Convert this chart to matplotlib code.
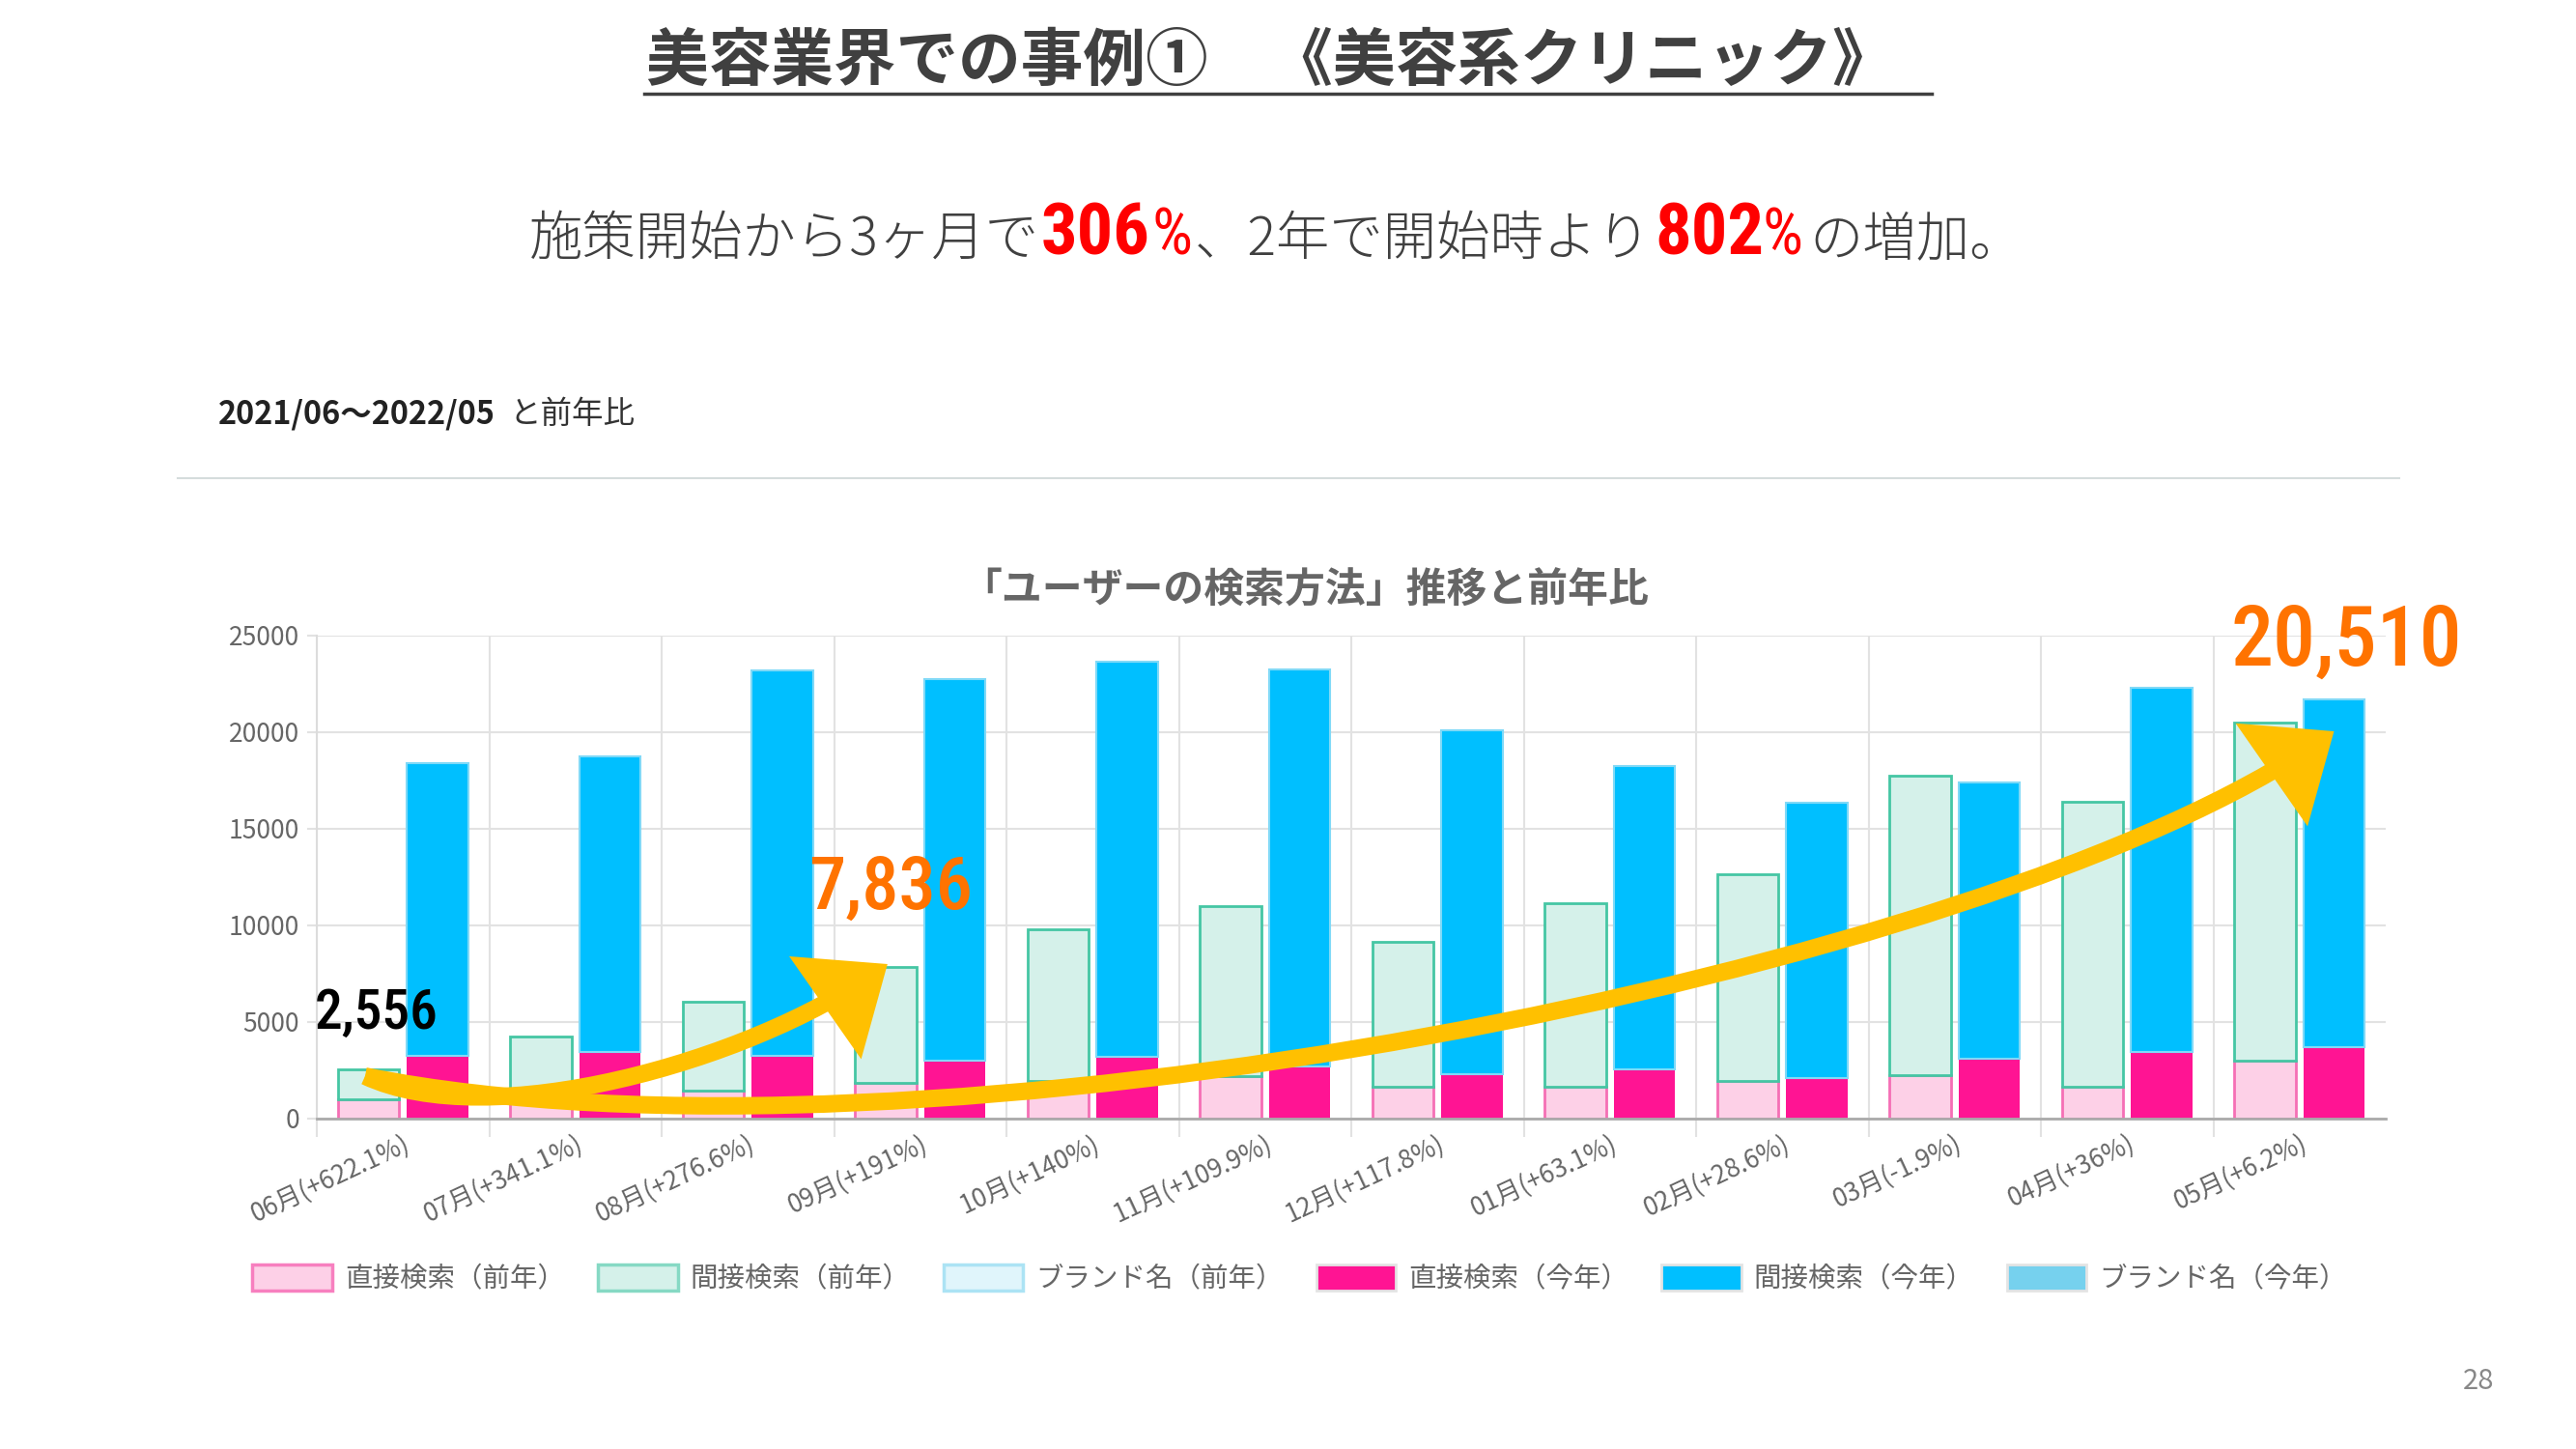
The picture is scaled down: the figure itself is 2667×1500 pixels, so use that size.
import numpy as np
import matplotlib
matplotlib.use('Agg')
import matplotlib.pyplot as plt
from matplotlib import font_manager as fm
from matplotlib.patches import Patch, FancyArrowPatch
from matplotlib.path import Path
from matplotlib.lines import Line2D

# ---------------- data ----------------
months = ['06月', '07月', '08月', '09月', '10月', '11月', '12月', '01月', '02月', '03月', '04月', '05月']
yoy_change = ['+622.1%', '+341.1%', '+276.6%', '+191%', '+140%', '+109.9%',
              '+117.8%', '+63.1%', '+28.6%', '-1.9%', '+36%', '+6.2%']
direct_prev = [1000, 1200, 1450, 1850, 1950, 2200, 1650, 1650, 1950, 2250, 1650, 3000]
indirect_prev = [1556, 3030, 4620, 5986, 7830, 8810, 7500, 9520, 10690, 15510, 14760, 17510]
brand_prev = [0, 0, 0, 0, 0, 0, 0, 0, 0, 0, 0, 0]
direct_cur = [3230, 3470, 3270, 2980, 3180, 2700, 2300, 2540, 2100, 3100, 3430, 3690]
indirect_cur = [15180, 15280, 19910, 19780, 20450, 20530, 17800, 15730, 14230, 14320, 18890, 18000]
brand_cur = [0, 0, 0, 0, 0, 0, 0, 0, 0, 0, 0, 0]
series_names = ['直接検索（前年）', '間接検索（前年）', 'ブランド名（前年）',
                '直接検索（今年）', '間接検索（今年）', 'ブランド名（今年）']
callout_values = [2556, 7836, 20510]
growth_3m = 306
growth_2y = 802
y_ticks = [0, 5000, 10000, 15000, 20000, 25000]

# ---------------- setup ----------------
W, H = 2667, 1500
JP = 'Noto Sans CJK JP'
plt.rcParams['font.family'] = [JP, 'DejaVu Sans']
fig = plt.figure(figsize=(W / 100, H / 100), dpi=100)
fig.patch.set_facecolor('white')
renderer = fig.canvas.get_renderer()


def fx(px):
    return px / W


def fy(py):
    return 1 - py / H


def fit(t, target_px):
    w = t.get_window_extent(renderer).width
    t.set_fontsize(t.get_fontsize() * target_px / w)
    return t


_names = {f.name for f in fm.fontManager.ttflist}
NARROW = None
for n in ['Liberation Sans Narrow', 'Roboto Condensed', 'Open Sans Condensed']:
    if n in _names:
        NARROW = dict(family=n)
        break
if NARROW is None:
    for f in fm.fontManager.ttflist:
        if f.name == 'DejaVu Sans' and 'Condensed' in f.fname:
            NARROW = dict(family='DejaVu Sans', stretch='condensed')
            break
if NARROW is None:
    NARROW = dict(family='Roboto')

# ---------------- header texts ----------------
title = fig.text(fx(669), fy(64), '美容業界での事例①　《美容系クリニック》', ha='left', va='center',
                 fontsize=47, fontweight='bold', color='#404040')
fit(title, 1291)
fig.add_artist(Line2D([fx(667), fx(2000)], [fy(97), fy(97)], color='#404040', lw=2.5))

base = fy(264)
gray_kw = dict(color='#404040', fontweight='light', va='baseline', ha='left')
num_kw = dict(color='#ff0000', fontweight='bold', va='baseline', ha='left', **NARROW)
pct_kw = dict(color='#ff0000', fontweight='normal', va='baseline', ha='left', **NARROW)
t1 = fig.text(fx(548), base, '施策開始から3ヶ月で', fontsize=40, **gray_kw)
fit(t1, 527)
gsize = t1.get_fontsize()
n1 = fig.text(fx(1078), base, f'{growth_3m}', fontsize=50, **num_kw)
fit(n1, 113)
p1 = fig.text(fx(1192), base, '%', fontsize=36, **pct_kw)
fit(p1, 42)
fig.text(fx(1237), base, '、2年で開始時より', fontsize=gsize, **gray_kw)
n2 = fig.text(fx(1713), base, f'{growth_2y}', fontsize=n1.get_fontsize(), **num_kw)
fig.text(fx(1825), base, '%', fontsize=p1.get_fontsize(), **pct_kw)
fig.text(fx(1873), base, 'の増加。', fontsize=gsize, **gray_kw)

d1 = fig.text(fx(226), fy(429), '2021/06〜2022/05', ha='left', va='center', fontsize=19,
              fontweight='bold', color='#222222')
fit(d1, 288)
fig.text(fx(527), fy(429), 'と前年比', ha='left', va='center', fontsize=d1.get_fontsize(),
         color='#333333')
fig.add_artist(Line2D([fx(184), fx(2484)], [fy(495), fy(495)], color='#d5dcdc', lw=1.5))

ct = fig.text(fx(995), fy(612), '「ユーザーの検索方法」推移と前年比', ha='left', va='center',
              fontsize=28, fontweight='bold', color='#666666')
fit(ct, 711)

fig.text(fx(2566), fy(1430), '28', ha='center', va='center', fontsize=21, color='#888888')

# ---------------- chart ----------------
ax = fig.add_axes([fx(328), fy(1158), (2470 - 328) / W, 500 / H])
x = np.arange(len(months))
w = 0.355
off = 0.2
dp = np.array(direct_prev)
ip = np.array(indirect_prev)
dc = np.array(direct_cur)
ic = np.array(indirect_cur)

c_dp = ('#fdd0e7', '#f56fb5')
c_ip = ('#d5f1ea', '#45c6a4')
c_bp = ('#e0f5fb', '#ace3f4')
c_dc = ('#ff1493', '#ff1493')
c_ic = ('#00bfff', '#80d9f7')
c_bc = ('#76d1ee', '#76d1ee')

ax.bar(x - off, dp, w, color=c_dp[0], edgecolor=c_dp[1], lw=2, zorder=2)
ax.bar(x - off, ip, w, bottom=dp, color=c_ip[0], edgecolor=c_ip[1], lw=2, zorder=2)
ax.bar(x - off, brand_prev, w, bottom=dp + ip, color=c_bp[0], lw=0, zorder=2)
ax.bar(x + off, dc, w, color=c_dc[0], lw=0, zorder=2)
ax.bar(x + off, ic, w, bottom=dc, color=c_ic[0], edgecolor=c_ic[1], lw=1.5, zorder=2)
ax.bar(x + off, brand_cur, w, bottom=dc + ic, color=c_bc[0], lw=0, zorder=2)

ax.set_xlim(-0.5, len(months) - 0.5)
ax.set_ylim(0, 25000)
ax.set_axisbelow(True)
ax.set_yticks(y_ticks)
ax.set_yticklabels([str(v) for v in y_ticks], fontsize=19, color='#666666')
ax.tick_params(axis='y', length=7, color='#e2e2e2', width=1.5, pad=6)
ax.yaxis.grid(True, color='#e2e2e2', lw=1.5)

labels = [f'{m}({c})' for m, c in zip(months, yoy_change)]
ax.set_xticks(x)
ax.set_xticklabels(labels, rotation=25, ha='right', rotation_mode='anchor', fontsize=19,
                   color='#666666')
ax.tick_params(axis='x', which='major', length=0, pad=9)
ax.set_xticks(np.arange(-0.5, len(months) - 1, 1), minor=True)
ax.tick_params(axis='x', which='minor', length=14, color='#e2e2e2', width=1.5)
ax.xaxis.grid(True, which='minor', color='#e2e2e2', lw=1.5)
for s in ['top', 'right']:
    ax.spines[s].set_visible(False)
ax.spines['left'].set_color('#dcdcdc')
ax.spines['left'].set_linewidth(1.5)
ax.spines['bottom'].set_color('#aaaaaa')
ax.spines['bottom'].set_linewidth(2)

# ---------------- arrows ----------------
arrow_color = '#ffc000'
path1 = Path([(-0.22, 2200), (0.5, -800), (2.0, 2935), (2.81, 8000)],
             [Path.MOVETO, Path.CURVE4, Path.CURVE4, Path.CURVE4])
path2 = Path([(-0.22, 2200), (3.0, -3500), (9.2, 7594), (11.2, 20050)],
             [Path.MOVETO, Path.CURVE4, Path.CURVE4, Path.CURVE4])
for p in (path2, path1):
    arr = FancyArrowPatch(path=p, arrowstyle='-|>,head_length=0.8,head_width=0.66',
                          mutation_scale=50, lw=13, color=arrow_color, zorder=5,
                          capstyle='butt', joinstyle='miter', transform=ax.transData,
                          clip_on=False)
    ax.add_patch(arr)

# ---------------- callouts ----------------
c1 = ax.text(-0.51, 5442, f'{callout_values[0]:,}', ha='left', va='center', fontsize=40,
             color='#000000', zorder=6, clip_on=False, fontweight='medium', **NARROW)
fit(c1, 128)
c2 = ax.text(2.35, 11905, f'{callout_values[1]:,}', ha='left', va='center', fontsize=40,
             color='#ff7300', zorder=6, clip_on=False, fontweight='medium', **NARROW)
fit(c2, 170)
c3 = ax.text(10.60, 24660, f'{callout_values[2]:,}', ha='left', va='center', fontsize=40,
             color='#ff7300', zorder=6, clip_on=False, fontweight='medium', **NARROW)
fit(c3, 240)

# ---------------- legend ----------------
handles = [
    Patch(facecolor=c_dp[0], edgecolor='#f77fbf', lw=2.5),
    Patch(facecolor=c_ip[0], edgecolor='#86d9c4', lw=2.5),
    Patch(facecolor=c_bp[0], edgecolor=c_bp[1], lw=2.5),
    Patch(facecolor=c_dc[0], edgecolor='#e4e4e4', lw=2),
    Patch(facecolor=c_ic[0], edgecolor='#e4e4e4', lw=2),
    Patch(facecolor=c_bc[0], edgecolor='#e4e4e4', lw=2),
]
fig.legend(handles, series_names, loc='center', bbox_to_anchor=(0.5045, fy(1324)), ncol=6,
           frameon=False, fontsize=20.5, handlelength=2.9, handleheight=1.1,
           handletextpad=0.45, columnspacing=1.2, labelcolor='#666666')

fig.savefig('out.png', dpi=100, facecolor='white')
